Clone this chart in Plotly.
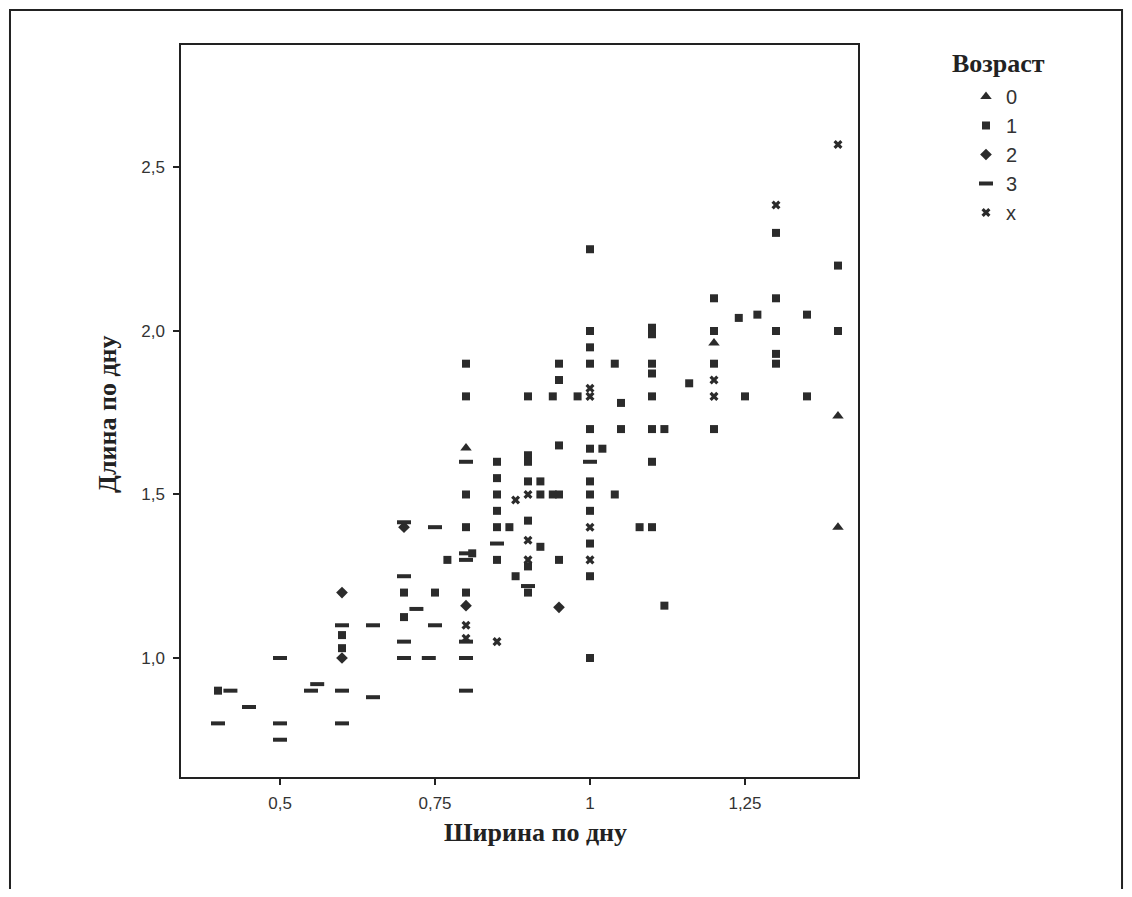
import plotly.graph_objects as go

# ---- data ----
age0_x = [0.80, 1.20, 1.40, 1.40]
age0_y = [1.642, 1.963, 1.74, 1.40]

age1_x = [0.40, 0.60, 0.60, 0.70, 0.70, 0.75, 0.77, 0.80, 0.80, 0.80, 0.80, 0.80, 0.81,
          0.85, 0.85, 0.85, 0.85, 0.85, 0.85, 0.87, 0.88, 0.90, 0.90, 0.90, 0.90, 0.90,
          0.90, 0.90, 0.92, 0.92, 0.92, 0.94, 0.95, 0.94, 0.95, 0.95, 0.95, 0.95, 0.98,
          1.00, 1.00, 1.00, 1.00, 1.00, 1.00, 1.00, 1.00, 1.00, 1.00, 1.00, 1.00, 1.02,
          1.04, 1.04, 1.05, 1.05, 1.08, 1.10, 1.10, 1.10, 1.10, 1.10, 1.10, 1.10, 1.10,
          1.12, 1.12, 1.16, 1.20, 1.20, 1.20, 1.20, 1.24, 1.25, 1.27, 1.30, 1.30, 1.30,
          1.30, 1.30, 1.35, 1.35, 1.40, 1.40]
age1_y = [0.90, 1.03, 1.07, 1.20, 1.125, 1.20, 1.30, 1.90, 1.80, 1.50, 1.40, 1.20, 1.32,
          1.60, 1.55, 1.50, 1.45, 1.40, 1.30, 1.40, 1.25, 1.80, 1.62, 1.60, 1.54, 1.42,
          1.28, 1.20, 1.54, 1.50, 1.34, 1.50, 1.50, 1.80, 1.90, 1.85, 1.65, 1.30, 1.80,
          2.25, 2.00, 1.95, 1.90, 1.70, 1.64, 1.54, 1.50, 1.45, 1.35, 1.25, 1.00, 1.64,
          1.90, 1.50, 1.78, 1.70, 1.40, 2.01, 1.99, 1.90, 1.87, 1.80, 1.70, 1.60, 1.40,
          1.70, 1.16, 1.84, 2.10, 2.00, 1.90, 1.70, 2.04, 1.80, 2.05, 2.30, 2.10, 2.00,
          1.93, 1.90, 2.05, 1.80, 2.20, 2.00]

age2_x = [0.60, 0.60, 0.70, 0.80, 0.95]
age2_y = [1.20, 1.00, 1.40, 1.16, 1.155]

age3_x = [0.42, 0.45, 0.40, 0.50, 0.50, 0.50, 0.55, 0.56, 0.60, 0.60, 0.60, 0.65, 0.65,
          0.70, 0.70, 0.70, 0.72, 0.74, 0.75, 0.75, 0.70, 0.80, 0.80, 0.80, 0.80, 0.80,
          0.80, 0.85, 0.90, 1.00]
age3_y = [0.90, 0.85, 0.80, 1.00, 0.80, 0.75, 0.90, 0.92, 0.90, 0.80, 1.10, 0.88, 1.10,
          1.25, 1.05, 1.00, 1.15, 1.00, 1.10, 1.40, 1.415, 1.60, 1.32, 1.30, 1.05, 1.00,
          0.90, 1.35, 1.22, 1.60]

agex_x = [0.80, 0.80, 0.85, 0.88, 0.90, 0.90, 0.90, 1.00, 1.00, 1.00, 1.00, 1.20, 1.20,
          1.30, 1.40]
agex_y = [1.10, 1.06, 1.05, 1.483, 1.50, 1.36, 1.30, 1.825, 1.80, 1.40, 1.30, 1.85, 1.80,
          2.385, 2.57]

x_tickvals = [0.5, 0.75, 1.0, 1.25]
x_ticktext = ["0,5", "0,75", "1", "1,25"]
y_tickvals = [1.0, 1.5, 2.0, 2.5]
y_ticktext = ["1,0", "1,5", "2,0", "2,5"]

legend_title = "Возраст"
x_title = "Ширина по дну"
y_title = "Длина по дну"

MC = "#2b2b2b"
SANS = "Liberation Sans, Arial, sans-serif"
SERIF = "Liberation Serif, Times New Roman, serif"

fig = go.Figure()
fig.add_trace(go.Scatter(x=age0_x, y=age0_y, mode="markers", name="0",
                         marker=dict(symbol="triangle-up", size=10, color=MC)))
fig.add_trace(go.Scatter(x=age1_x, y=age1_y, mode="markers", name="1",
                         marker=dict(symbol="square", size=8, color=MC)))
fig.add_trace(go.Scatter(x=age2_x, y=age2_y, mode="markers", name="2",
                         marker=dict(symbol="diamond", size=9, color=MC)))
fig.add_trace(go.Scatter(x=age3_x, y=age3_y, mode="markers", name="3",
                         marker=dict(symbol="line-ew", size=10, color=MC,
                                     line=dict(color=MC, width=4))))
fig.add_trace(go.Scatter(x=agex_x, y=agex_y, mode="markers", name="x",
                         marker=dict(symbol="x", size=8, color=MC,
                                     line=dict(width=0))))

axis_common = dict(showgrid=False, zeroline=False, showline=True, linecolor="#222",
                   linewidth=1.5, mirror=True, ticks="outside", ticklen=6,
                   tickcolor="#222", tickwidth=1.5,
                   tickfont=dict(family=SANS, size=17, color="#333"))

fig.update_layout(
    width=1116, height=881,
    margin=dict(l=173, r=266, t=37, b=112),
    paper_bgcolor="white", plot_bgcolor="white",
    xaxis=dict(range=[0.3403, 1.4323], tickvals=x_tickvals, ticktext=x_ticktext,
               ticklabelstandoff=4, **axis_common),
    yaxis=dict(range=[0.636, 2.8746], tickvals=y_tickvals, ticktext=y_ticktext,
               ticklabelstandoff=5, **axis_common),
    legend=dict(x=1.1595, y=0.9563, xanchor="left", yanchor="top",
                font=dict(family=SANS, size=20, color="#333"),
                bgcolor="rgba(0,0,0,0)"),
    showlegend=True,
)

fig.add_annotation(text="<b>" + legend_title + "</b>", xref="paper", yref="paper",
                   x=1.2068, y=0.975, xanchor="center", yanchor="middle",
                   showarrow=False, font=dict(family=SERIF, size=26, color="#222"))
fig.add_annotation(text="<b>" + x_title + "</b>", xref="paper", yref="paper",
                   x=0.523, y=-0.0765, xanchor="center", yanchor="middle",
                   showarrow=False, font=dict(family=SERIF, size=26, color="#222"))
fig.add_annotation(text="<b>" + y_title + "</b>", xref="paper", yref="paper",
                   x=-0.1078, y=0.496, xanchor="center", yanchor="middle", textangle=-90,
                   showarrow=False, font=dict(family=SERIF, size=26, color="#222"))

# outer frame of the figure
fig.add_shape(type="rect", xref="paper", yref="paper",
              x0=-0.2526, x1=1.3900, y0=-0.25, y1=1.0478,
              line=dict(color="#222", width=2), fillcolor="rgba(0,0,0,0)")

fig.write_html("out.html")
